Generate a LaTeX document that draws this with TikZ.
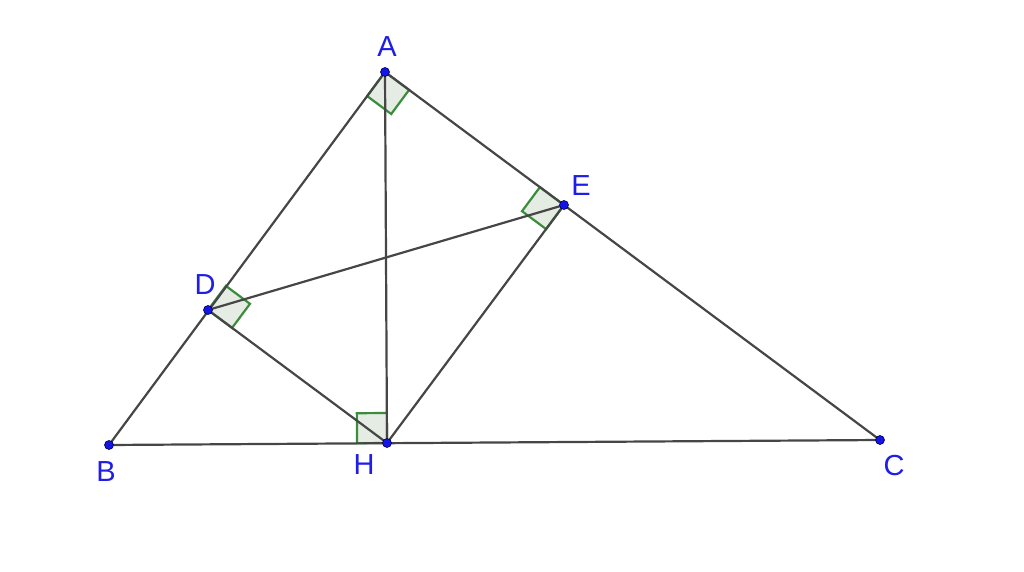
\documentclass[tikz,border=0pt]{standalone}
\usepackage{fontspec}
\setmainfont{Liberation Sans}
\usetikzlibrary{calc}
\definecolor{segcol}{RGB}{70,70,70}
\definecolor{angstroke}{RGB}{60,140,60}
\definecolor{angfill}{RGB}{228,236,228}
\definecolor{ptblue}{RGB}{20,20,230}
\definecolor{lblblue}{RGB}{30,30,230}
\tikzset{
  seg/.style={draw=segcol, line width=2.2pt},
  rightmark/.style={draw=angstroke, fill=angfill, line width=2.2pt, line join=miter},
  ptdot/.style={circle, fill=ptblue, draw=black!70!blue, line width=0.6pt, minimum size=9pt, inner sep=0pt},
  lbl/.style={text=lblblue, font=\fontsize{29}{30}\selectfont, inner sep=0pt}
}
\begin{document}
\begin{tikzpicture}[x=1pt,y=-1pt]
\useasboundingbox (0,0) rectangle (1024,572);
\coordinate (A) at (385,72);
\coordinate (B) at (109,445);
\coordinate (C) at (880,440);
\coordinate (H) at (387,443);
\coordinate (D) at (208,310);
\coordinate (E) at (564,205);
% right angle markers
\newcommand{\rmark}[3]{%
  \path[rightmark] (#1) -- ($(#1)!30pt!(#2)$) -- ($($(#1)!30pt!(#2)$)+($(#1)!30pt!(#3)$)-(#1)$) -- ($(#1)!30pt!(#3)$) -- cycle;}
\rmark{A}{B}{C}
\rmark{E}{A}{H}
\rmark{D}{A}{H}
\rmark{H}{B}{A}
% segments
\draw[seg] (A) -- (B);
\draw[seg] (A) -- (C);
\draw[seg] (B) -- (C);
\draw[seg] (A) -- (H);
\draw[seg] (D) -- (H);
\draw[seg] (E) -- (H);
\draw[seg] (D) -- (E);
% points
\node[ptdot] (pA) at (A) {};
\node[ptdot] (pB) at (B) {};
\node[ptdot] (pC) at (C) {};
\node[ptdot] (pH) at (H) {};
\node[ptdot] (pD) at (D) {};
\node[ptdot] (pE) at (E) {};
% labels
\node[lbl] (lA) at (387,47) {A};
\node[lbl] (lE) at (581,186) {E};
\node[lbl] (lD) at (205,285) {D};
\node[lbl] (lH) at (364,465) {H};
\node[lbl] (lB) at (106,472) {B};
\node[lbl] (lC) at (894,466) {C};
\end{tikzpicture}
\end{document}
